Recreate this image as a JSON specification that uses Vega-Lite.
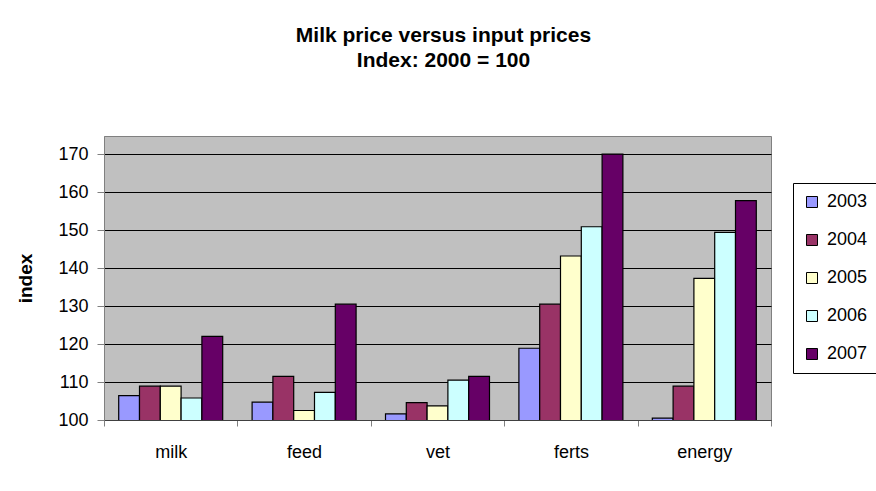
{
  "$schema": "https://vega.github.io/schema/vega-lite/v6.json",
  "autosize": {"type": "none"},
  "width": 667,
  "height": 284,
  "padding": {"left": 104, "top": 136, "right": 105, "bottom": 71},
  "background": "white",
  "title": {
    "text": ["Milk price versus input prices", "Index: 2000 = 100"],
    "font": "Liberation Sans",
    "fontSize": 21,
    "fontWeight": "bold",
    "color": "black",
    "lineHeight": 25,
    "anchor": "middle",
    "frame": "group",
    "baseline": "alphabetic",
    "offset": 48,
    "dx": 6
  },
  "data": {
    "values": [
      {"item": "milk", "year": "2003", "index": 106.4},
      {"item": "milk", "year": "2004", "index": 108.9},
      {"item": "milk", "year": "2005", "index": 108.9},
      {"item": "milk", "year": "2006", "index": 105.8},
      {"item": "milk", "year": "2007", "index": 122.0},
      {"item": "feed", "year": "2003", "index": 104.7},
      {"item": "feed", "year": "2004", "index": 111.5},
      {"item": "feed", "year": "2005", "index": 102.5},
      {"item": "feed", "year": "2006", "index": 107.3},
      {"item": "feed", "year": "2007", "index": 130.5},
      {"item": "vet", "year": "2003", "index": 101.6},
      {"item": "vet", "year": "2004", "index": 104.6},
      {"item": "vet", "year": "2005", "index": 103.7},
      {"item": "vet", "year": "2006", "index": 110.5},
      {"item": "vet", "year": "2007", "index": 111.5},
      {"item": "ferts", "year": "2003", "index": 118.9},
      {"item": "ferts", "year": "2004", "index": 130.5},
      {"item": "ferts", "year": "2005", "index": 143.2},
      {"item": "ferts", "year": "2006", "index": 150.9},
      {"item": "ferts", "year": "2007", "index": 170.0},
      {"item": "energy", "year": "2003", "index": 100.5},
      {"item": "energy", "year": "2004", "index": 108.9},
      {"item": "energy", "year": "2005", "index": 137.3},
      {"item": "energy", "year": "2006", "index": 149.4},
      {"item": "energy", "year": "2007", "index": 157.8}
    ]
  },
  "mark": {"type": "bar", "stroke": "black", "strokeWidth": 1.2, "clip": true},
  "encoding": {
    "x": {
      "field": "item",
      "type": "nominal",
      "sort": ["milk", "feed", "vet", "ferts", "energy"],
      "scale": {"paddingInner": 0, "paddingOuter": 0},
      "axis": {
        "title": null,
        "labelAngle": 0,
        "tickBand": "extent",
        "domainColor": "#404040",
        "tickColor": "#808080",
        "tickSize": 6,
        "labelFont": "Liberation Sans",
        "labelFontSize": 18,
        "labelColor": "black",
        "labelPadding": 17
      }
    },
    "xOffset": {
      "field": "year",
      "type": "nominal",
      "scale": {"paddingInner": 0, "paddingOuter": 0.707}
    },
    "y": {
      "field": "index",
      "type": "quantitative",
      "scale": {"domain": [100, 174.8], "nice": false, "zero": false},
      "axis": {
        "title": "index",
        "titleFont": "Liberation Sans",
        "titleFontSize": 19,
        "titleFontWeight": "bold",
        "titleColor": "black",
        "titlePadding": 22,
        "values": [100, 110, 120, 130, 140, 150, 160, 170],
        "grid": true,
        "gridColor": "black",
        "gridWidth": 1,
        "gridOpacity": 1,
        "domainColor": "#808080",
        "tickColor": "#808080",
        "tickSize": 7,
        "labelFont": "Liberation Sans",
        "labelFontSize": 18,
        "labelColor": "black",
        "labelPadding": 9
      }
    },
    "color": {
      "field": "year",
      "type": "nominal",
      "scale": {
        "domain": ["2003", "2004", "2005", "2006", "2007"],
        "range": ["#9999FF", "#993366", "#FFFFCC", "#CCFFFF", "#660066"]
      },
      "legend": {
        "title": null,
        "orient": "none",
        "legendX": 689,
        "legendY": 47,
        "symbolType": "square",
        "symbolSize": 121,
        "symbolStrokeColor": "black",
        "symbolStrokeWidth": 1,
        "symbolOpacity": 1,
        "labelFont": "Liberation Sans",
        "labelFontSize": 18,
        "labelColor": "black",
        "labelOffset": 6,
        "rowPadding": 20,
        "padding": 10,
        "strokeColor": "black",
        "fillColor": "white",
        "cornerRadius": 0
      }
    }
  },
  "config": {
    "view": {"fill": "#C0C0C0", "stroke": "#808080", "strokeWidth": 1},
    "axis": {"gridColor": "black"}
  }
}
